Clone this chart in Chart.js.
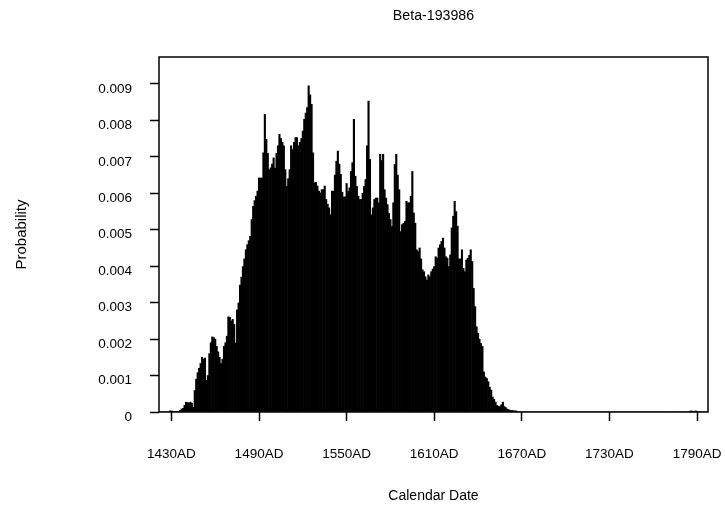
<!DOCTYPE html>
<html>
<head>
<meta charset="utf-8">
<title>Beta-193986</title>
<script src="https://cdn.jsdelivr.net/npm/chart.js@4.4.1/dist/chart.umd.min.js"></script>
<style>
  html, body { margin: 0; padding: 0; background: #fff; }
  canvas { display: block; }
</style>
</head>
<body>
<canvas id="chart" width="725" height="506"></canvas>
<script>
const chartTitle = 'Beta-193986';
const xTitle = 'Calendar Date';
const yTitle = 'Probability';

// one bar per calendar year, 1422..1797
const firstYear = 1422;
const lastYear = 1797;
const tickYears = [1430, 1490, 1550, 1610, 1670, 1730, 1790];
const xTickLabels = ['1430AD', '1490AD', '1550AD', '1610AD', '1670AD', '1730AD', '1790AD'];
const yTickValues = [0, 0.001, 0.002, 0.003, 0.004, 0.005, 0.006, 0.007, 0.008, 0.009];
const yTickLabels = ['0', '0.001', '0.002', '0.003', '0.004', '0.005', '0.006', '0.007', '0.008', '0.009'];

const probability = [
  // 1422-1429
  0, 0, 0, 0, 0, 0, 0, 0.00003,
  // 1430s
  0.00003, 0.00002, 0.00001, 0.00001, 0.00001, 0.00002, 0.00004, 0.00008, 0.0001, 0.00018,
  // 1440s
  0.00027, 0.00026, 0.00025, 0.00027, 0.00024, 0.00013, 0.00059, 0.0009, 0.00108, 0.0012,
  // 1450s
  0.00133, 0.0015, 0.00145, 0.00148, 0.00087, 0.001, 0.0016, 0.0019, 0.00206, 0.00204,
  // 1460s
  0.002, 0.0018, 0.00165, 0.0015, 0.00133, 0.00145, 0.0018, 0.0019, 0.00208, 0.00261,
  // 1470s
  0.0026, 0.0025, 0.00254, 0.0024, 0.00189, 0.0028, 0.00299, 0.00348, 0.0037, 0.00399,
  // 1480s
  0.0042, 0.00445, 0.00459, 0.0047, 0.00482, 0.00528, 0.00564, 0.0058, 0.00592, 0.00606,
  // 1490s
  0.00642, 0.00642, 0.00642, 0.00711, 0.00817, 0.00748, 0.0071, 0.00665, 0.0067, 0.0068,
  // 1500s
  0.00697, 0.00669, 0.0071, 0.0073, 0.00762, 0.0075, 0.0074, 0.0073, 0.00665, 0.00619,
  // 1510s
  0.0064, 0.00665, 0.0073, 0.0072, 0.0074, 0.00753, 0.00753, 0.0073, 0.0074, 0.0075,
  // 1520s
  0.00771, 0.00803, 0.0082, 0.00835, 0.00895, 0.0087, 0.00844, 0.00711, 0.00629, 0.0063,
  // 1530s
  0.0062, 0.00606, 0.00601, 0.0061, 0.0061, 0.0062, 0.00583, 0.0057, 0.0056, 0.00541,
  // 1540s
  0.00606, 0.00606, 0.0065, 0.00688, 0.00716, 0.0068, 0.00652, 0.00603, 0.0059, 0.0059,
  // 1550s
  0.00627, 0.00605, 0.00615, 0.0066, 0.00684, 0.00803, 0.00647, 0.00619, 0.00592, 0.00583,
  // 1560s
  0.00583, 0.006, 0.00619, 0.00638, 0.0073, 0.00853, 0.00693, 0.00541, 0.0056, 0.00583,
  // 1570s
  0.00587, 0.00587, 0.00574, 0.00707, 0.0069, 0.00707, 0.0061, 0.00587, 0.00569, 0.00545,
  // 1580s
  0.00528, 0.00509, 0.00574, 0.00679, 0.00707, 0.0065, 0.0061, 0.00495, 0.00514, 0.00518,
  // 1590s
  0.00523, 0.00578, 0.00574, 0.00574, 0.00592, 0.0066, 0.00546, 0.00518, 0.00445, 0.0044,
  // 1600s
  0.0045, 0.0042, 0.0039, 0.00385, 0.00371, 0.00362, 0.00376, 0.00371, 0.00385, 0.00392,
  // 1610s
  0.00399, 0.00426, 0.00422, 0.0045, 0.00459, 0.00468, 0.00477, 0.0045, 0.00426, 0.00422,
  // 1620s
  0.00399, 0.00431, 0.00505, 0.00537, 0.00578, 0.0055, 0.0051, 0.0042, 0.0042, 0.00445,
  // 1630s
  0.00394, 0.00385, 0.00417, 0.00422, 0.0043, 0.00445, 0.00413, 0.00339, 0.00289, 0.00234,
  // 1640s
  0.00216, 0.002, 0.00188, 0.0018, 0.0011, 0.00096, 0.00092, 0.00083, 0.00068, 0.0006,
  // 1650s
  0.00041, 0.00035, 0.00027, 0.00018, 0.00016, 0.00015, 0.0002, 0.00027, 0.00015, 0.00012,
  // 1660s
  0.00008, 0.00006, 0.00005, 0.00004, 0.00004, 0.00003, 0.00003, 0.00002, 0, 0,
  // 1670s
  0, 0, 0, 0, 0, 0, 0, 0, 0, 0,
  // 1680s
  0, 0, 0, 0, 0, 0, 0, 0, 0, 0,
  // 1690s
  0, 0, 0, 0, 0, 0, 0, 0, 0, 0,
  // 1700s
  0, 0, 0, 0, 0, 0, 0, 0, 0, 0,
  // 1710s
  0, 0, 0, 0, 0, 0, 0, 0, 0, 0,
  // 1720s
  0, 0, 0, 0, 0, 0, 0, 0, 0, 0,
  // 1730s
  0, 0, 0, 0, 0, 0, 0, 0, 0, 0,
  // 1740s
  0, 0, 0, 0, 0, 0, 0, 0, 0, 0,
  // 1750s
  0, 0, 0, 0, 0, 0, 0, 0, 0, 0,
  // 1760s
  0, 0, 0, 0, 0, 0, 0, 0, 0, 0,
  // 1770s
  0, 0, 0, 0, 0, 0, 0, 0, 0, 0,
  // 1780s
  0, 0, 0, 0, 0, 0.00002, 0.00003, 0.00002, 0, 0.00003,
  // 1790-1797
  0.00002, 0, 0, 0, 0, 0, 0, 0
];

const years = [];
for (let y = firstYear; y <= lastYear; y++) years.push(y);

Chart.defaults.font.family = '"Liberation Sans", Arial, sans-serif';
Chart.defaults.font.size = 13.5;
Chart.defaults.color = '#000';

// box round the plot area + main title centred over it
const framePlugin = {
  id: 'frame',
  afterDraw(chart) {
    const {ctx, chartArea: a} = chart;
    ctx.save();
    ctx.strokeStyle = '#000';
    ctx.lineWidth = 1.5;
    ctx.strokeRect(a.left, a.top, a.right - a.left, a.bottom - a.top);
    ctx.fillStyle = '#000';
    ctx.font = '14.2px "Liberation Sans", Arial, sans-serif';
    ctx.textAlign = 'center';
    ctx.textBaseline = 'middle';
    ctx.fillText(chartTitle, (a.left + a.right) / 2, 16);
    ctx.restore();
  }
};

new Chart(document.getElementById('chart'), {
  type: 'bar',
  data: {
    labels: years,
    datasets: [{
      data: probability,
      backgroundColor: '#000',
      borderWidth: 0,
      barPercentage: 1,
      categoryPercentage: 1
    }]
  },
  options: {
    responsive: false,
    animation: false,
    devicePixelRatio: 1,
    layout: { padding: { top: 57, right: 17, bottom: 0, left: 0 } },
    plugins: {
      legend: { display: false },
      tooltip: { enabled: false },
      title: { display: false }
    },
    scales: {
      x: {
        offset: true,
        grid: { display: true, drawOnChartArea: false, drawTicks: true, tickLength: 9, tickWidth: 1.5, tickColor: '#000', offset: false },
        border: { display: false },
        ticks: {
          autoSkip: false, maxRotation: 0, minRotation: 0, padding: 25,
          callback: (v, i) => xTickLabels[i]
        },
        afterBuildTicks: s => { s.ticks = tickYears.map(y => ({ value: years.indexOf(y) })); },
        afterFit: s => { s.height = 94; s.paddingLeft = 0; s.paddingRight = 0; },
        title: { display: true, text: xTitle, font: { size: 14 }, padding: { top: 0, bottom: 1.2 } }
      },
      y: {
        min: 0,
        max: 0.00974,
        grid: { display: true, drawOnChartArea: false, drawTicks: true, tickLength: 9, tickWidth: 1.5, tickColor: '#000' },
        border: { display: false },
        ticks: {
          padding: 18, labelOffset: 5,
          callback: (v, i) => yTickLabels[i]
        },
        afterBuildTicks: s => { s.ticks = yTickValues.map(v => ({ value: v })); },
        afterFit: s => { s.width = 159; s.paddingTop = 0; s.paddingBottom = 0; },
        title: { display: true, text: yTitle, font: { size: 15 }, padding: { top: 12.6, bottom: 0 } }
      }
    }
  },
  plugins: [framePlugin]
});
</script>
</body>
</html>
